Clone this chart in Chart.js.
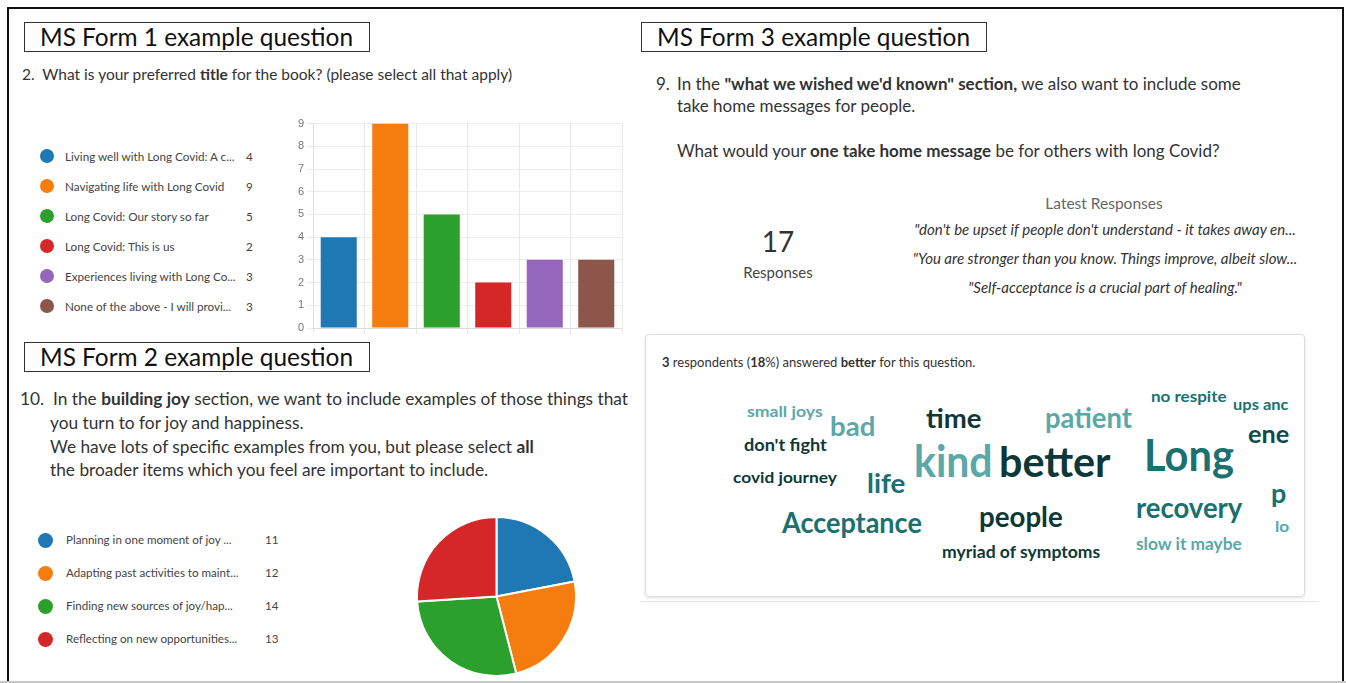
<!DOCTYPE html>
<html lang="en">
<head>
  <meta charset="UTF-8">
  <title>MS Forms example questions</title>
  <script src="https://cdn.jsdelivr.net/npm/chart.js"></script>
  <style>
    body { margin:0; background:#fff; font-family:Lato, "Open Sans", sans-serif; color:#222; }
    #page { position:relative; width:1346px; height:683px; overflow:hidden; }
    .t { position:absolute; white-space:nowrap; transform:translateY(-50%); line-height:1.2; }
    .c { position:absolute; white-space:nowrap; transform:translate(-50%,-50%); line-height:1.2; }
    .box { position:absolute; border:1px solid #333; height:30px; width:346px; box-sizing:border-box; font-size:24.4px; line-height:28px; padding-left:15px; color:#111; }
    .legend { position:absolute; }
    .legend .row { position:absolute; left:0; white-space:nowrap; color:#444; }
    .legend .dot { position:absolute; border-radius:50%; }
    .legend .val { position:absolute; }
    #cloud { position:absolute; left:645px; top:334px; width:660px; height:263px; box-sizing:border-box; border:1px solid #ddd; border-radius:4px; box-shadow:0 1px 3px rgba(0,0,0,0.12); }
    #cloudWords { position:absolute; left:0; top:0; width:100%; height:100%; }
    .w { position:absolute; white-space:nowrap; font-weight:700; line-height:1; transform-origin:0 50%; }
  </style>
</head>
<body>
<div id="page">
  <!-- outer frame -->
  <div style="position:absolute; left:7px; top:7px; width:1337px; height:700px; box-sizing:border-box; border:2.5px solid #111;"></div>
  <div style="position:absolute; left:0; top:681px; width:1346px; height:2px; background:#c8c8c8;"></div>

  <!-- Form 1 -->
  <div class="box" style="left:24px; top:22px;">MS Form 1 example question</div>
  <div class="t" style="left:22px; top:74px; font-size:15.5px; color:#333;">2.&nbsp; What is your preferred <b>title</b> for the book? (please select all that apply)</div>
  <div class="legend" id="legend1" style="left:0; top:0;"></div>
  <div style="position:absolute; left:285px; top:114px; width:345px; height:226px;"><canvas id="barChart"></canvas></div>

  <!-- Form 2 -->
  <div class="box" style="left:24px; top:342px;">MS Form 2 example question</div>
  <div class="t" style="left:20px; top:399px; font-size:17.3px; color:#333;">10.&nbsp; In the <b>building joy</b> section, we want to include examples of those things that</div>
  <div class="t" style="left:50px; top:423px; font-size:17.3px; color:#333;">you turn to for joy and happiness.</div>
  <div class="t" style="left:50px; top:447px; font-size:17.3px; color:#333;">We have lots of specific examples from you, but please select <b>all</b></div>
  <div class="t" style="left:50px; top:470px; font-size:17.3px; color:#333;">the broader items which you feel are important to include.</div>
  <div class="legend" id="legend2" style="left:0; top:0;"></div>
  <div style="position:absolute; left:416px; top:516px; width:161px; height:161px;"><canvas id="pieChart"></canvas></div>

  <!-- Form 3 -->
  <div class="box" style="left:641px; top:22px;">MS Form 3 example question</div>
  <div class="t" style="left:656px; top:84px; font-size:17px; color:#333;">9.</div>
  <div class="t" style="left:677px; top:84px; font-size:17px; color:#333;">In the <b>"what we wished we'd known" section,</b> we also want to include some</div>
  <div class="t" style="left:677px; top:106px; font-size:17px; color:#333;">take home messages for people.</div>
  <div class="t" style="left:677px; top:151px; font-size:17px; color:#333;">What would your <b>one take home message</b> be for others with long Covid?</div>
  <div class="c" id="respCount" style="left:778px; top:242px; font-size:28px; color:#333;"></div>
  <div class="c" style="left:778px; top:272px; font-size:15px; color:#444;">Responses</div>
  <div class="c" style="left:1104px; top:203px; font-size:15.5px; color:#666;">Latest Responses</div>
  <div id="quotes"></div>

  <div id="cloud">
    <div class="t" style="left:16px; top:28px; font-size:13px; color:#333;"><b>3</b> respondents (<b>18</b>%) answered <b>better</b> for this question.</div>
    <div id="cloudWords"></div>
  </div>
  <div style="position:absolute; left:640px; top:601px; width:678px; height:1px; background:#e6e6e6;"></div>
</div>

<script>
  // Form 1: preferred title
  const titleLabels = [
    'Living well with Long Covid: A c...',
    'Navigating life with Long Covid',
    'Long Covid: Our story so far',
    'Long Covid: This is us',
    'Experiences living with Long Co...',
    'None of the above - I will provi...'
  ];
  const titleVotes = [4, 9, 5, 2, 3, 3];
  const titleTicks = [0, 1, 2, 3, 4, 5, 6, 7, 8, 9];

  // Form 2: building joy
  const joyLabels = [
    'Planning in one moment of joy ...',
    'Adapting past activities to maint...',
    'Finding new sources of joy/hap...',
    'Reflecting on new opportunities...'
  ];
  const joyVotes = [11, 12, 14, 13];

  // Form 3: take home message
  const responseCount = 17;
  const latestResponses = [
    '"don\'t be upset if people don\'t understand - it takes away en...',
    '"You are stronger than you know. Things improve, albeit slow...',
    '"Self-acceptance is a crucial part of healing."'
  ];
  // words as they show in the card (the right-hand ones are cut short in the original)
  const cloudWords = ['small joys', 'bad', 'time', 'patient', 'no respite', 'ups anc', 'ene',
    "don't fight", 'kind', 'better', 'Long', 'covid journey', 'life', 'p', 'recovery', 'lo',
    'Acceptance', 'people', 'myriad of symptoms', 'slow it maybe'];

  const palette = ['#1f77b4', '#f57d0f', '#2ca02c', '#d62728', '#9467bd', '#8c564b'];

  // word cloud layout (left, centre y, font size, width, colour) relative to card
  const light = '#5aa8a8', mid = '#1b7070', dark = '#0e3838';
  const cloudLayout = [
    [101, 76, 16, 76, light], [184, 90, 27, 45, light], [280, 82, 27, 55, dark], [399, 82, 28, 87, light],
    [505, 61, 15, 76, mid], [587, 69, 15, 56, mid], [602, 99, 24, 41, '#0f4b4b'],
    [98, 109, 17, 83, dark], [268, 125, 43, 79, light], [353, 126, 42, 112, dark], [498, 119, 43, 90, mid],
    [87, 142, 16, 104, dark], [221, 147, 27, 38, mid], [625, 157, 27, 15, mid], [490, 172, 28, 106, mid],
    [629, 191, 16, 14, light], [136, 187, 28, 140, mid], [333, 181, 28, 84, dark], [296, 216, 17, 158, dark],
    [490, 208, 17, 106, light]
  ];

  // legends
  function buildLegend(id, labels, values, top, step, dotX, dotSize, textX, valX, fontSize) {
    const el = document.getElementById(id);
    labels.forEach((lab, i) => {
      const y = top + i * step;
      el.innerHTML += `
        <div class="dot" style="left:${dotX - dotSize / 2}px; top:${y - dotSize / 2}px; width:${dotSize}px; height:${dotSize}px; background:${palette[i]};"></div>
        <div class="row t" style="left:${textX}px; top:${y}px; font-size:${fontSize}px;">${lab}</div>
        <div class="val t" style="left:${valX}px; top:${y}px; font-size:${fontSize}px; color:#444;">${values[i]}</div>`;
    });
  }
  buildLegend('legend1', titleLabels, titleVotes, 156, 30, 47, 14, 65, 246, 11.7);
  buildLegend('legend2', joyLabels, joyVotes, 540, 33, 45, 15, 66, 265, 11.6);

  document.getElementById('respCount').textContent = responseCount;
  document.getElementById('quotes').innerHTML = latestResponses.map((q, i) =>
    `<div class="c" style="left:1105px; top:${229 + i * 29}px; font-size:15px; font-style:italic; color:#333;">${q}</div>`).join('');

  // word cloud
  const cloud = document.getElementById('cloudWords');
  cloudWords.forEach((w, i) => {
    const [x, y, size, width, color] = cloudLayout[i];
    const d = document.createElement('div');
    d.className = 'w';
    d.textContent = w;
    d.style.cssText = `left:${x}px; top:${y - size / 2}px; font-size:${size}px; color:${color};`;
    cloud.appendChild(d);
    d.style.transform = `scaleX(${width / d.offsetWidth})`;
  });

  // bar chart
  new Chart(document.getElementById('barChart'), {
    type: 'bar',
    data: {
      labels: titleLabels,
      datasets: [{ data: titleVotes, backgroundColor: palette, barPercentage: 0.7, categoryPercentage: 1 }]
    },
    options: {
      responsive: true,
      maintainAspectRatio: false,
      animation: false,
      layout: { padding: { top: 8, right: 8 } },
      plugins: { legend: { display: false }, tooltip: { enabled: false } },
      scales: {
        x: {
          ticks: { display: false },
          grid: { color: '#e8e8e8', tickLength: 6 },
          border: { color: '#dcdcdc' },
          afterFit: s => { s.height = 12; }
        },
        y: {
          min: 0, max: 9,
          afterBuildTicks: s => { s.ticks = titleTicks.map(v => ({ value: v })); },
          ticks: { color: '#777', font: { size: 11, family: 'Arial' }, padding: 3 },
          grid: { color: '#ececec', tickLength: 6 },
          border: { color: '#e0e0e0' },
          afterFit: s => { s.width = 28; }
        }
      }
    }
  });

  // pie chart
  new Chart(document.getElementById('pieChart'), {
    type: 'pie',
    data: {
      labels: joyLabels,
      datasets: [{ data: joyVotes, backgroundColor: palette.slice(0, 4), borderColor: '#fff', borderWidth: 2 }]
    },
    options: {
      responsive: true,
      maintainAspectRatio: false,
      animation: false,
      plugins: { legend: { display: false }, tooltip: { enabled: false } }
    }
  });
</script>
</body>
</html>
